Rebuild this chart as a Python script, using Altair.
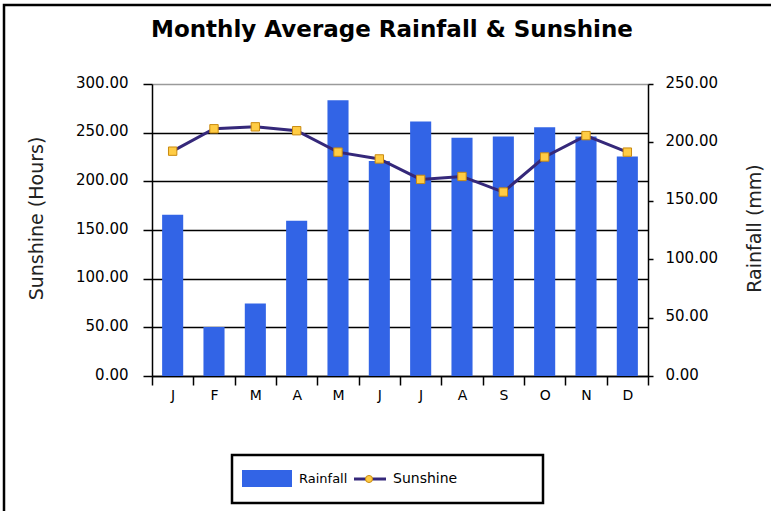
import altair as alt
import pandas as pd

# Monthly values
months = ["Jan", "Feb", "Mar", "Apr", "May", "Jun", "Jul", "Aug", "Sep", "Oct", "Nov", "Dec"]
rainfall_mm = [138, 42, 62, 133, 236, 184, 218, 204, 205, 213, 205, 188]
sunshine_hours = [231, 254, 256, 252, 230, 223, 202, 205, 189, 225, 247, 230]

series_names = ["Rainfall", "Sunshine"]
chart_title = "Monthly Average Rainfall & Sunshine"
sunshine_ticks = [0, 50, 100, 150, 200, 250, 300]
rainfall_ticks = [0, 50, 100, 150, 200, 250]

df = pd.DataFrame({"month": months, "rainfall": rainfall_mm, "sunshine": sunshine_hours})
one_row = pd.DataFrame({"k": [0]})

W, H = 496, 292
FONT = "DejaVu Sans"
BLUE = "#3264E6"
NAVY = "#35287A"
MARK_FILL = "#FFCC44"
MARK_EDGE = "#C98A10"

# Bands fill the whole step so the month ticks fall midway between bars
x_enc = alt.X(
    "month:N",
    sort=months,
    scale=alt.Scale(paddingInner=0, paddingOuter=0),
    axis=alt.Axis(
        title=None,
        labelExpr="isValid(datum.value) ? substring(datum.value, 0, 1) : ''",
        labelAngle=0,
        tickBand="extent",
        tickSize=9,
        tickColor="black",
        tickWidth=1.5,
        domainColor="black",
        domainWidth=1.5,
        labelFont=FONT,
        labelFontSize=14,
        labelColor="black",
        labelPadding=3,
    ),
)

bars = alt.Chart(df).mark_bar(color=BLUE, width=alt.RelativeBandSize(0.51)).encode(
    x=x_enc,
    y=alt.Y(
        "rainfall:Q",
        scale=alt.Scale(domain=[0, 250], nice=False),
        axis=alt.Axis(
            orient="right",
            values=rainfall_ticks,
            format=".2f",
            grid=False,
            title="Rainfall (mm)",
            titleFont=FONT,
            titleFontSize=19,
            titleFontWeight="normal",
            titleColor="#222222",
            titleAngle=-90,
            titleAlign="center",
            titleBaseline="middle",
            titleX=106,
            titleY=144,
            tickSize=5,
            tickColor="black",
            tickWidth=1.5,
            domainColor="black",
            domainWidth=1.5,
            labelFont=FONT,
            labelFontSize=15,
            labelColor="black",
            labelPadding=12,
            labelOffset=-2,
        ),
    ),
)

line = alt.Chart(df).mark_line(
    color=NAVY,
    strokeWidth=3,
    point=alt.OverlayMarkDef(
        shape="square", filled=True, size=70, fill=MARK_FILL, stroke=MARK_EDGE,
        strokeWidth=1, opacity=1,
    ),
).encode(
    x=x_enc,
    y=alt.Y(
        "sunshine:Q",
        scale=alt.Scale(domain=[0, 300], nice=False),
        axis=alt.Axis(
            orient="left",
            values=sunshine_ticks,
            format=".2f",
            grid=True,
            gridColor=alt.condition("datum.value === 300", alt.value("#9a9a9a"), alt.value("black")),
            gridWidth=1.5,
            title="Sunshine (Hours)",
            titleFont=FONT,
            titleFontSize=19,
            titleFontWeight="normal",
            titleColor="#222222",
            titleAngle=-90,
            titleAlign="center",
            titleBaseline="middle",
            titleX=-116,
            titleY=134,
            tickSize=9,
            tickColor="black",
            tickWidth=1.5,
            domainColor="black",
            domainWidth=1.5,
            labelFont=FONT,
            labelFontSize=15,
            labelColor="black",
            labelPadding=15,
            labelOffset=-2,
        ),
    ),
)

plot = alt.layer(bars, line).resolve_scale(y="independent")

# Decorations: outer frame, heading and the legend box
frame = alt.Chart(one_row).mark_rect(fill=None, stroke="black", strokeWidth=2.5).encode(
    x=alt.value(-148), x2=alt.value(700), y=alt.value(-79), y2=alt.value(500)
)

heading = alt.Chart(one_row).mark_text(
    text=chart_title, font=FONT, fontSize=23, fontWeight="bold", align="center",
    baseline="alphabetic", color="black",
).encode(x=alt.value(240), y=alt.value(-47))

legend_box = alt.Chart(one_row).mark_rect(fill="white", stroke="black", strokeWidth=2.5).encode(
    x=alt.value(80), x2=alt.value(391), y=alt.value(371), y2=alt.value(419)
)
legend_swatch = alt.Chart(one_row).mark_rect(fill=BLUE).encode(
    x=alt.value(90), x2=alt.value(140), y=alt.value(386), y2=alt.value(403)
)
legend_rain = alt.Chart(one_row).mark_text(
    text=series_names[0], font=FONT, fontSize=13, align="left", baseline="middle", color="black"
).encode(x=alt.value(147), y=alt.value(395))
legend_line = alt.Chart(one_row).mark_rule(color=NAVY, strokeWidth=3).encode(
    x=alt.value(202), x2=alt.value(234), y=alt.value(395)
)
legend_dot = alt.Chart(one_row).mark_point(
    shape="circle", filled=True, size=50, fill=MARK_FILL, stroke=MARK_EDGE, strokeWidth=1, opacity=1
).encode(x=alt.value(217), y=alt.value(395))
legend_sun = alt.Chart(one_row).mark_text(
    text=series_names[1], font=FONT, fontSize=14, align="left", baseline="middle", color="black"
).encode(x=alt.value(241), y=alt.value(395))

chart = alt.layer(
    frame, heading, plot, legend_box, legend_swatch, legend_rain, legend_line, legend_dot, legend_sun
).properties(
    width=W,
    height=H,
    padding={"left": 152, "top": 84, "right": 123, "bottom": 135},
    autosize=alt.AutoSizeParams(type="none"),
    background="white",
).configure_view(stroke=None)

chart.save("out.html", embed_options={"renderer": "svg", "actions": False})
